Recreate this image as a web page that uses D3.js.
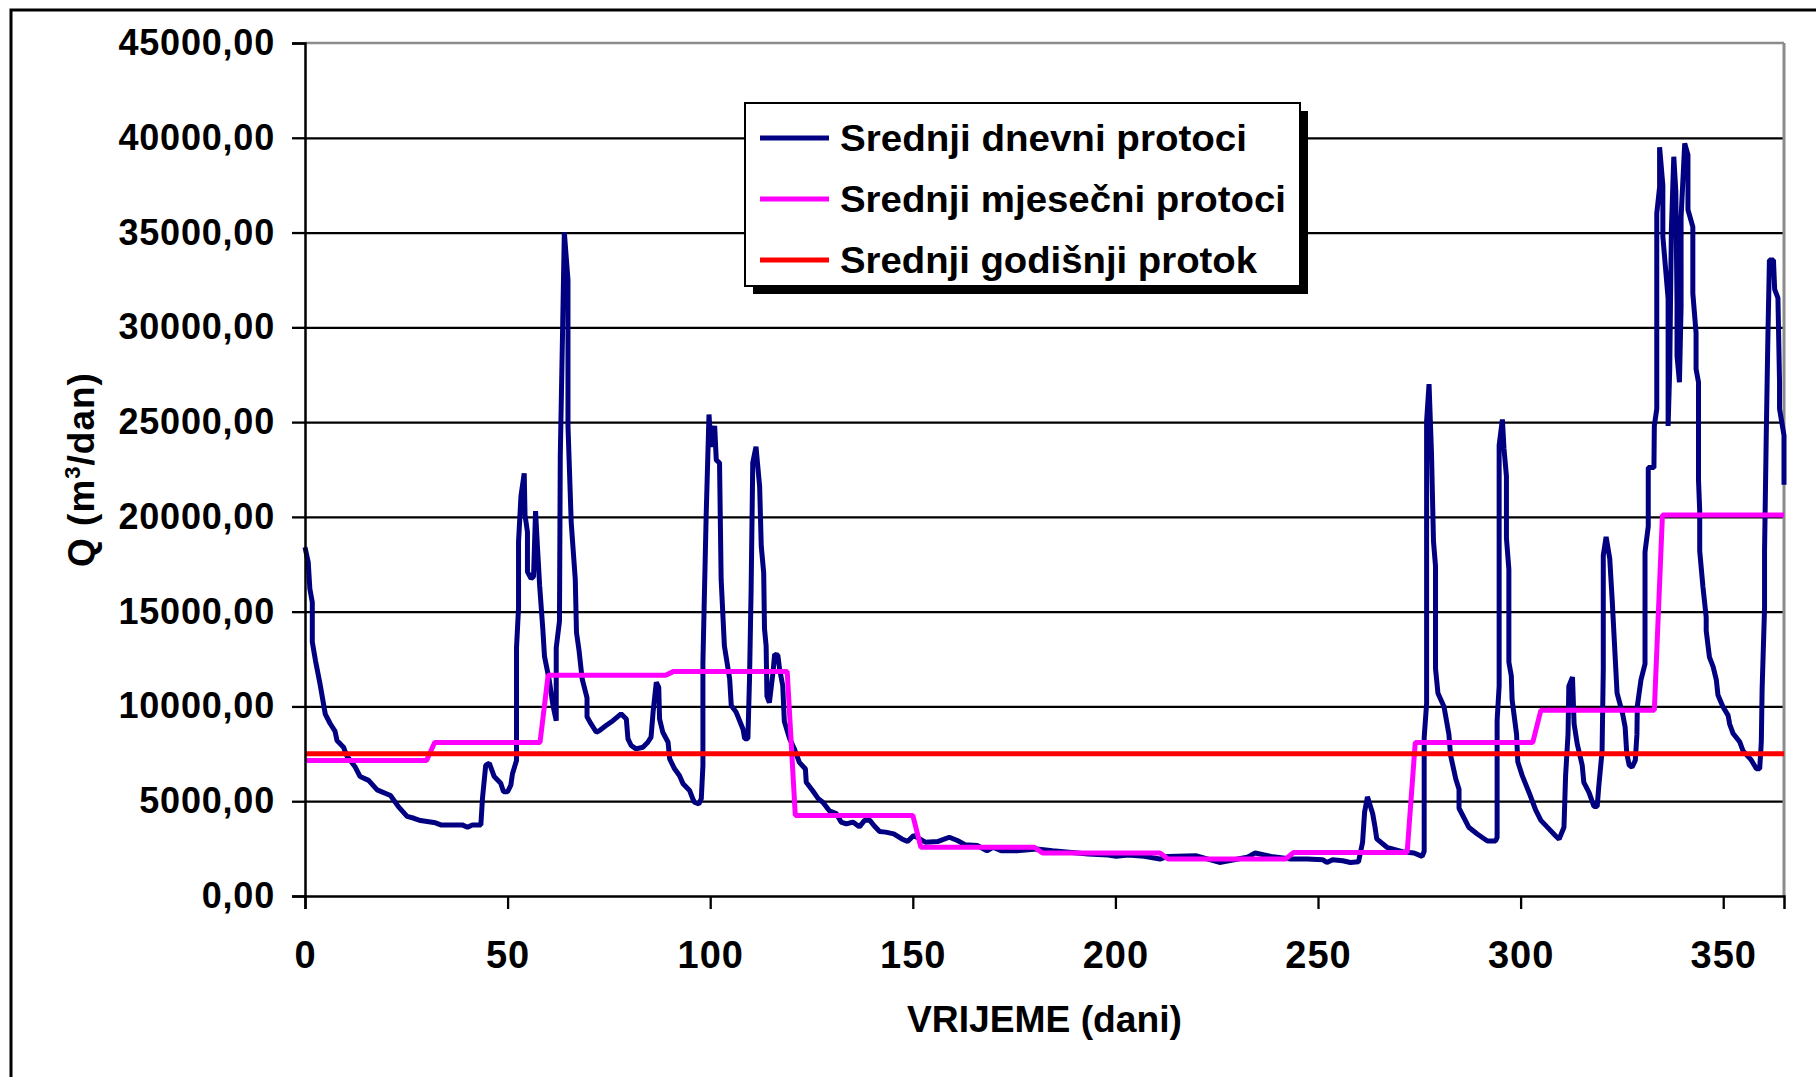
<!DOCTYPE html>
<html>
<head>
<meta charset="utf-8">
<script src="https://cdn.jsdelivr.net/npm/d3@7"></script>
<style>
  html, body { margin: 0; padding: 0; background: #fff; }
  svg { display: block; }
  text { font-family: "Liberation Sans", Arial, sans-serif; font-weight: bold; fill: #000; }
</style>
</head>
<body>
<svg id="chart" width="1816" height="1077"></svg>
<script>
// ---------------- DATA ----------------
// Daily mean discharge (Srednji dnevni protoci): day, value (m3/dan)
const days = [
  0, 0.8, 1.2, 1.8, 1.8, 2.6, 3.7, 5.0, 6.2, 7.4, 7.9, 9.5, 10.3, 12.4, 13.6, 15.7, 17.8, 21.1, 23.1, 25.2,
  26.9, 28.5, 32.2, 33.5, 38.8, 40.1, 41.3, 43.4, 43.8, 44.6, 45.5, 46.7, 48.3, 49.0, 50.0, 50.8, 51.2, 52.2, 52.2, 52.7,
  52.7, 53.3, 54.1, 54.3, 54.9, 54.9, 55.8, 56.4, 56.9, 57.4, 57.9, 58.7, 59.1, 60.3, 61.2, 62.0, 62.0, 62.8, 63.0, 63.6,
  64.0, 64.9, 64.9, 65.7, 66.7, 67.0, 67.6, 68.4, 69.6, 69.6, 70.6, 71.9, 72.7, 74.3, 76.0, 78.0, 79.3, 79.7, 80.5, 81.7,
  83.4, 84.6, 85.4, 85.9, 86.7, 87.3, 87.5, 88.3, 89.6, 90.0, 91.2, 92.4, 93.3, 94.9, 95.7, 96.1, 97.2, 97.8, 98.2, 98.2,
  99.0, 99.7, 100.2, 101.1, 101.5, 102.3, 102.7, 103.5, 104.8, 105.2, 106.4, 108.1, 108.5, 109.3, 109.7, 110.1, 110.5, 111.3, 112.2, 112.6,
  113.2, 113.4, 113.8, 114.0, 114.6, 115.5, 115.9, 116.7, 117.1, 117.9, 118.3, 119.6, 120.8, 122.0, 123.5, 123.7, 125.3, 126.6, 127.8, 129.4,
  131.1, 132.3, 133.6, 135.2, 136.8, 138.1, 139.4, 140.4, 141.8, 143.3, 145.3, 147.3, 148.7, 150.2, 151.7, 153.1, 156.1, 159.0, 161.0, 162.9,
  165.9, 168.3, 169.8, 171.8, 175.7, 180.6, 184.5, 193.3, 198.2, 200.2, 203.1, 207.1, 211.0, 212.9, 219.8, 225.7, 232.5, 234.5, 238.4, 243.3,
  247.3, 251.2, 252.2, 253.6, 256.1, 258.0, 260.0, 261.0, 261.5, 262.2, 263.5, 264.0, 264.5, 267.0, 270.8, 273.7, 275.7, 276.2, 276.2, 276.8,
  276.8, 277.4, 278.0, 278.5, 279.0, 279.0, 279.6, 281.1, 282.3, 282.7, 284.0, 284.8, 284.8, 287.2, 289.3, 291.8, 293.8, 294.2, 294.2, 294.7,
  294.7, 295.5, 295.9, 296.5, 296.5, 297.1, 297.1, 297.7, 297.9, 299.0, 299.3, 300.4, 302.1, 303.7, 305.0, 307.0, 308.6, 309.5, 310.7, 311.1,
  311.7, 311.9, 312.8, 313.2, 314.0, 315.2, 315.6, 316.9, 318.1, 318.9, 319.3, 320.1, 320.4, 320.4, 321.1, 322.0, 322.6, 323.4, 323.8, 325.2,
  325.8, 326.2, 326.8, 327.5, 328.3, 328.7, 328.8, 329.7, 330.7, 330.7, 331.5, 331.5, 332.9, 333.0, 333.6, 333.6, 334.3, 334.3, 335.1, 335.1,
  336.4, 336.4, 336.8, 337.2, 337.8, 338.3, 338.6, 338.6, 339.2, 339.6, 339.6, 340.5, 341.3, 341.3, 342.5, 342.5, 343.3, 343.3, 343.9, 343.9,
  344.2, 344.2, 345.0, 345.8, 345.8, 346.6, 347.5, 348.3, 348.7, 349.9, 351.2, 351.6, 352.4, 354.1, 354.9, 356.9, 358.2, 359.0, 359.4, 359.6,
  360.2, 360.2, 360.6, 361.0, 361.4, 362.4, 362.7, 363.5, 363.9, 363.9, 365.0, 365.0
];
const dailyFlow = [
  18400, 17600, 16200, 15500, 13400, 12400, 11200, 9600, 9100, 8700, 8200, 7850, 7400, 6800, 6300, 6100, 5600, 5300, 4700, 4200,
  4100, 3980, 3860, 3750, 3750, 3630, 3750, 3750, 5150, 6900, 7000, 6300, 5950, 5500, 5500, 5850, 6450, 7150, 13100, 15200,
  18700, 21100, 22300, 20100, 19200, 17100, 16750, 16850, 20300, 18300, 16400, 14050, 12650, 11350, 10050, 9250, 13100, 14500, 23200, 30200,
  35000, 32500, 24800, 19700, 16700, 13900, 13000, 11450, 10450, 9450, 9080, 8640, 8730, 8990, 9250, 9610, 9340, 8290, 7940, 7760,
  7850, 8110, 8380, 9690, 11270, 11010, 9340, 8640, 8110, 7230, 6710, 6360, 5920, 5570, 5130, 4950, 4860, 5130, 6880, 12330,
  20050, 25400, 23700, 24800, 23000, 22850, 16700, 13200, 11450, 10050, 9700, 8800, 8300, 8300, 11450, 16200, 22850, 23700, 21600, 18450,
  17050, 14100, 13200, 10550, 10200, 11800, 12750, 12700, 12000, 11100, 9200, 8300, 7750, 7050, 6700, 6000, 5550, 5150, 4950, 4500,
  4350, 3900, 3800, 3900, 3650, 3990, 3990, 3720, 3400, 3370, 3280, 3010, 2870, 3190, 3010, 2840, 2870, 3100, 2930, 2710,
  2660, 2390, 2570, 2390, 2390, 2480, 2390, 2220, 2160, 2090, 2160, 2090, 1950, 2090, 2130, 1770, 2040, 2270, 2090, 1950,
  1950, 1910, 1770, 1910, 1860, 1770, 1810, 2840, 4430, 5230, 4340, 3720, 3010, 2570, 2340, 2270, 2090, 2360, 8350, 10160,
  25050, 27000, 23400, 18700, 17400, 12000, 10700, 9980, 8530, 7440, 6170, 5630, 4630, 3630, 3270, 2900, 2900, 3090, 9260, 11070,
  23780, 25140, 23600, 22140, 18880, 17240, 12340, 11620, 10350, 8530, 7080, 6350, 5450, 4540, 3990, 3540, 3180, 3000, 3630, 6350,
  8530, 11070, 11550, 9080, 7990, 6900, 5990, 5450, 4720, 4720, 5810, 7620, 11980, 17970, 18950, 17790, 15610, 12340, 10710, 9580,
  8900, 7500, 6900, 6800, 7150, 8500, 10000, 11400, 12250, 18150, 19500, 22600, 22600, 24800, 25700, 36000, 37400, 39500, 37500, 34800,
  31500, 24800, 27800, 35100, 39000, 37200, 31300, 28500, 27100, 31100, 35800, 39700, 39100, 36200, 35300, 31800, 29700, 27800, 27100, 21950,
  20300, 18200, 16300, 14700, 14000, 12600, 12100, 11400, 10600, 10000, 9530, 9060, 8590, 8120, 7650, 7180, 6710, 6710, 8120, 10900,
  15200, 18200, 24000, 29200, 33550, 33550, 32000, 31550, 27100, 25700, 24300, 21700
];

// Monthly means (Srednji mjesečni protoci)
const monthStart  = [0, 31, 59, 90, 120, 151, 181, 212, 243, 273, 304, 334];
const monthEnd    = [30, 58, 89, 119, 150, 180, 211, 242, 272, 303, 333, 365];
const monthlyMean = [7150, 8100, 11650, 11850, 4250, 2570, 2270, 1950, 2300, 8100, 9800, 20100];

// Annual mean (Srednji godišnji protok)
const annualMean = 7500;
const yearSpan = [0, 365];

// Axes
const yTickValues = [0, 5000, 10000, 15000, 20000, 25000, 30000, 35000, 40000, 45000];
const xTickValues = [0, 50, 100, 150, 200, 250, 300, 350];
const xDomain = [0, 365];
const yDomain = [0, 45000];

const legendLabels = ["Srednji dnevni protoci", "Srednji mjesečni protoci", "Srednji godišnji protok"];
const legendColors = ["#000080", "#ff00ff", "#ff0000"];
const xTitle = "VRIJEME (dani)";

// ---------------- DRAW ----------------
const svg = d3.select("#chart");
const W = 1816, H = 1077;
const pLeft = 305, pRight = 1784, pTop = 43, pBottom = 896;

svg.append("rect").attr("width", W).attr("height", H).attr("fill", "#fff");
// outer chart frame
svg.append("rect").attr("x", 11).attr("y", 10).attr("width", W + 20).attr("height", H + 20)
  .attr("fill", "none").attr("stroke", "#000").attr("stroke-width", 3);

const x = d3.scaleLinear().domain(xDomain).range([pLeft, pRight]);
const y = d3.scaleLinear().domain(yDomain).range([pBottom, pTop]);

// gridlines
const grid = svg.append("g").attr("transform", `translate(${pLeft},0)`)
  .call(d3.axisLeft(y).tickValues(yTickValues.filter(v => v > yDomain[0] && v < yDomain[1]))
    .tickSize(-(pRight - pLeft)).tickFormat(""));
grid.select(".domain").remove();
grid.selectAll("line").attr("stroke", "#000").attr("stroke-width", 2.3);

// plot frame (top & right, grey)
svg.append("line").attr("x1", pLeft).attr("x2", pRight).attr("y1", y(yDomain[1])).attr("y2", y(yDomain[1]))
  .attr("stroke", "#8c8c8c").attr("stroke-width", 2.5);
svg.append("line").attr("x1", pRight).attr("x2", pRight).attr("y1", pTop).attr("y2", pBottom)
  .attr("stroke", "#8c8c8c").attr("stroke-width", 3);

// series
const line = d3.line().x(d => x(d[0])).y(d => y(d[1]));

const dailyPts = d3.zip(days, dailyFlow);
svg.append("path").datum(dailyPts).attr("d", line)
  .attr("fill", "none").attr("stroke", legendColors[0]).attr("stroke-width", 5)
  .attr("stroke-linejoin", "bevel");

// monthly steps: each month's level held over its days; the step to the next month is drawn over one day
const monthlyPts = [];
monthlyMean.forEach((v, i) => {
  monthlyPts.push([i === 0 ? monthStart[i] : monthStart[i] + 1, v]);
  monthlyPts.push([monthEnd[i], v]);
});
svg.append("path").datum(monthlyPts).attr("d", line)
  .attr("fill", "none").attr("stroke", legendColors[1]).attr("stroke-width", 5)
  .attr("stroke-linejoin", "bevel");

svg.append("path").datum(yearSpan.map(d => [d, annualMean])).attr("d", line)
  .attr("fill", "none").attr("stroke", legendColors[2]).attr("stroke-width", 5);

// Y axis
const fmt = d => d3.format(".2f")(d).replace(".", ",");
const yAx = svg.append("g").attr("transform", `translate(${pLeft},0)`)
  .call(d3.axisLeft(y).tickValues(yTickValues).tickSize(13).tickPadding(17).tickFormat(fmt));
yAx.attr("font-family", null).attr("font-size", null);
yAx.select(".domain").attr("stroke", "#000").attr("stroke-width", 2.5);
yAx.selectAll(".tick line").attr("stroke", "#000").attr("stroke-width", 2.3);
yAx.selectAll("text").style("font-size", "36px").style("letter-spacing", "0.8px").attr("fill", "#000");

// X axis
const xAx = svg.append("g").attr("transform", `translate(0,${pBottom})`)
  .call(d3.axisBottom(x).tickValues(xTickValues).tickSize(13).tickPadding(32));
xAx.attr("font-family", null).attr("font-size", null);
xAx.select(".domain").attr("stroke", "#000").attr("stroke-width", 2.5);
xAx.selectAll(".tick line").attr("stroke", "#000").attr("stroke-width", 2.3);
xAx.selectAll("text").style("font-size", "38px").style("letter-spacing", "1px").attr("fill", "#000");

// axis titles
svg.append("text").attr("x", (pLeft + pRight) / 2).attr("y", 1032)
  .attr("text-anchor", "middle").style("font-size", "36px")
  .attr("textLength", 275).attr("lengthAdjust", "spacingAndGlyphs")
  .text(xTitle);

const yt = svg.append("text").attr("transform", `translate(94,${(pTop + pBottom) / 2}) rotate(-90)`)
  .attr("text-anchor", "middle").style("font-size", "37px").style("letter-spacing", "1px");
yt.append("tspan").text("Q (m");
yt.append("tspan").text("3").style("font-size", "22px").attr("dy", "-14");
yt.append("tspan").text("/dan)").attr("dy", "14");

// legend
const lg = { x: 745, y: 103, w: 555, h: 183, sh: 8 };
svg.append("rect").attr("x", lg.x + lg.sh).attr("y", lg.y + lg.sh).attr("width", lg.w).attr("height", lg.h).attr("fill", "#000");
svg.append("rect").attr("x", lg.x).attr("y", lg.y).attr("width", lg.w).attr("height", lg.h)
  .attr("fill", "#fff").attr("stroke", "#000").attr("stroke-width", 2);
const legendWidths = [407, 446, 417];
const legendY = [138, 199, 260];
legendLabels.forEach((lab, i) => {
  svg.append("line").attr("x1", 760).attr("x2", 829).attr("y1", legendY[i]).attr("y2", legendY[i])
    .attr("stroke", legendColors[i]).attr("stroke-width", 5);
  svg.append("text").attr("x", 840).attr("y", legendY[i] + 13)
    .style("font-size", "37px")
    .attr("textLength", legendWidths[i]).attr("lengthAdjust", "spacingAndGlyphs")
    .text(lab);
});
</script>
</body>
</html>
